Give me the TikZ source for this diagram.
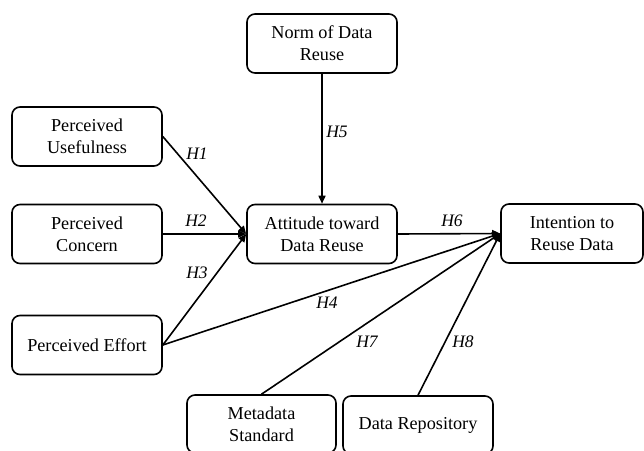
\documentclass[tikz,border=0pt]{standalone}
\usepackage{fontspec}
\setmainfont{Liberation Serif}
\usetikzlibrary{arrows.meta}
\begin{document}
\begin{tikzpicture}[x=1pt,y=-1pt,
  box/.style={draw,line width=1.6pt,rounded corners=8pt,minimum width=150pt,minimum height=59pt,align=center,inner sep=2pt,font=\fontsize{18.2}{22}\selectfont},
  conn/.style={line width=1.6pt},
  arr/.style={conn,-{Triangle[length=8pt,width=7pt]}},
  hl/.style={font=\fontsize{17.5}{20}\selectfont\itshape,inner sep=0pt}]
\useasboundingbox (0,0) rectangle (644,450);
\node[box] (norm) at (322,43.5) {Norm of Data\\Reuse};
\node[box] (useful) at (87,136.5) {Perceived\\Usefulness};
\node[box] (concern) at (87,234) {Perceived\\Concern};
\node[box] (att) at (322,234) {Attitude toward\\Data Reuse};
\node[box,minimum width=142pt] (intent) at (572,233.5) {Intention to\\Reuse Data};
\node[box] (effort) at (87,345) {Perceived Effort};
\node[box,minimum width=149pt,minimum height=58pt] (meta) at (261.5,424) {Metadata\\Standard};
\node[box,minimum height=58pt] (repo) at (418,425) {Data Repository};
\draw[arr] (useful.east) -- (att.west);
\draw[arr] (concern.east) -- (att.west);
\draw[arr] (effort.east) -- (att.west);
\draw[arr] (effort.east) -- (intent.west);
\draw[arr] (norm.south) -- (att.north);
\draw[arr] (att.east) -- (intent.west);
\draw[arr] (meta.north) -- (intent.west);
\draw[arr] (repo.north) -- (intent.west);
\node[hl] (h1) at (197,154) {H1};
\node[hl] (h2) at (196,221) {H2};
\node[hl] (h3) at (197,273) {H3};
\node[hl] (h4) at (327,303) {H4};
\node[hl] (h5) at (337,132) {H5};
\node[hl] (h6) at (452,221) {H6};
\node[hl] (h7) at (367,342) {H7};
\node[hl] (h8) at (463,342) {H8};
\end{tikzpicture}
\end{document}
